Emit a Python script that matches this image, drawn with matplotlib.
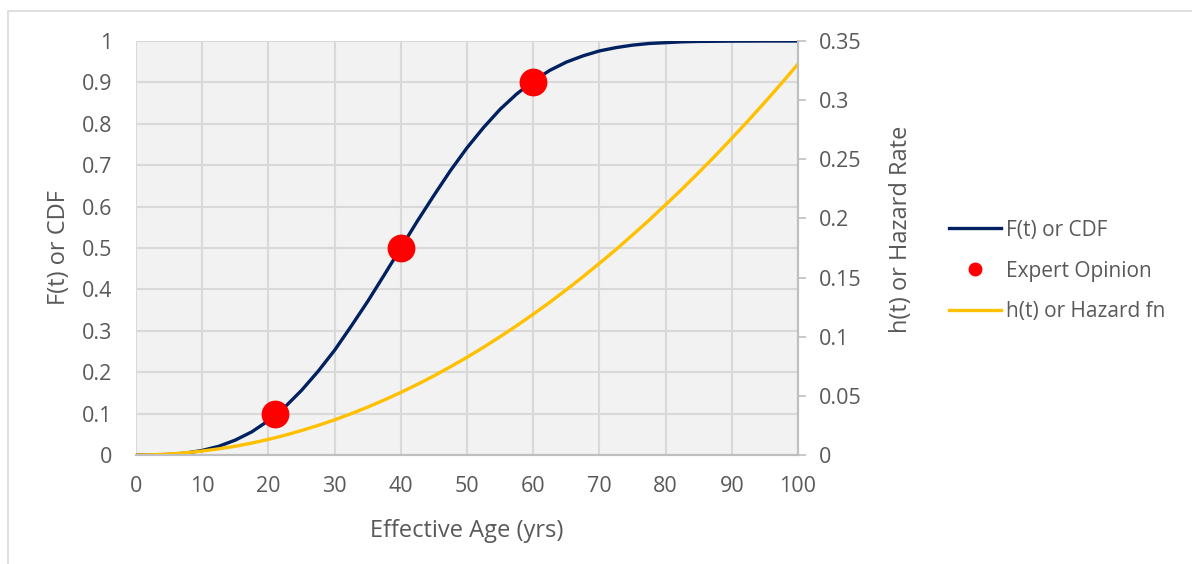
import matplotlib.pyplot as plt
from matplotlib.patches import Rectangle
from matplotlib.ticker import FuncFormatter, MultipleLocator

plt.rcParams["font.family"] = ["Open Sans", "DejaVu Sans"]

# effective age (years) and the two fitted curves
age = [0, 2.5, 5, 7.5, 10, 12.5, 15, 17.5, 20, 22.5, 25, 27.5, 30, 32.5, 35, 37.5,
       40, 42.5, 45, 47.5, 50, 52.5, 55, 57.5, 60, 62.5, 65, 67.5, 70, 72.5,
       75, 77.5, 80, 82.5, 85, 87.5, 90, 92.5, 95, 97.5, 100]
cdf = [0.0, 0.0002, 0.0014, 0.0046, 0.011, 0.021, 0.036, 0.056, 0.083, 0.116,
       0.156, 0.202, 0.253, 0.311, 0.371, 0.435, 0.500, 0.565, 0.627, 0.687,
       0.742, 0.791, 0.835, 0.872, 0.903, 0.929, 0.949, 0.964, 0.976, 0.984,
       0.990, 0.994, 0.996, 0.998, 0.999, 0.9993, 0.9997, 0.9998, 1.0, 1.0, 1.0]
hazard = [0.0, 0.0002, 0.0008, 0.0019, 0.0033, 0.0052, 0.0074, 0.0101, 0.0132, 0.0167,
          0.0207, 0.0250, 0.0297, 0.0349, 0.0405, 0.0465, 0.0529, 0.0597, 0.0669,
          0.0746, 0.0826, 0.0911, 0.1000, 0.1093, 0.1190, 0.1291, 0.1397, 0.1506,
          0.1620, 0.1737, 0.1860, 0.1985, 0.2116, 0.2249, 0.2388, 0.2530, 0.2677,
          0.2828, 0.2983, 0.3142, 0.3305]

# expert opinion points
expert_age = [21, 40, 60]
expert_cdf = [0.1, 0.5, 0.9]

navy = "#002060"
gold = "#FFC000"
text_c = "#595959"
grid_c = "#D9D9D9"
spine_c = "#BFBFBF"

fig = plt.figure(figsize=(11.92, 5.64), dpi=100)
fig.patches.append(Rectangle((8 / 1192, -0.1), 1.2, 1.1 - 11 / 564,
                             transform=fig.transFigure, fill=False,
                             edgecolor="#D9D9D9", linewidth=1.2))

ax = fig.add_axes([136 / 1192, 1 - 455 / 564, (798 - 136) / 1192, (455 - 41) / 564])
ax.set_facecolor("#F2F2F2")
ax2 = ax.twinx()

l1, = ax.plot(age, cdf, color=navy, linewidth=2.4, label="F(t) or CDF", zorder=3)
pts, = ax.plot(expert_age, expert_cdf, "o", color="#FF0000", markersize=19,
               label="Expert Opinion", zorder=4)
l2, = ax2.plot(age, hazard, color=gold, linewidth=2.4, label="h(t) or Hazard fn")

ax.set_xlim(0, 100)
ax.set_ylim(0, 1)
ax2.set_ylim(0, 0.35)
ax.xaxis.set_major_locator(MultipleLocator(10))
ax.yaxis.set_major_locator(MultipleLocator(0.1))
ax2.yaxis.set_major_locator(MultipleLocator(0.05))

fmt = FuncFormatter(lambda v, p: f"{round(v, 2):g}")
ax.yaxis.set_major_formatter(fmt)
ax2.yaxis.set_major_formatter(fmt)

ax.grid(True, color=grid_c, linewidth=1.5)
ax.set_axisbelow(True)

for a in (ax, ax2):
    for side in ("left", "top"):
        a.spines[side].set_visible(False)
    a.spines["bottom"].set_color(spine_c)
    a.spines["bottom"].set_linewidth(1.5)
    a.spines["right"].set_color(spine_c)
    a.spines["right"].set_linewidth(1.5)

tick_fs = 15.5
title_fs = 17

ax.tick_params(axis="both", length=0, labelsize=tick_fs, colors=text_c)
ax.tick_params(axis="y", pad=17)
ax.tick_params(axis="x", pad=15)
ax2.tick_params(axis="y", length=6, width=1.2, color=spine_c, labelsize=tick_fs,
                labelcolor=text_c, pad=9)

ax.set_xlabel("Effective Age (yrs)", fontsize=title_fs, color=text_c)
ax.set_ylabel("F(t) or CDF", fontsize=title_fs, color=text_c)
ax2.set_ylabel("h(t) or Hazard Rate", fontsize=title_fs, color=text_c)
ax.xaxis.set_label_coords(0.5, -0.155)
ax.yaxis.set_label_coords(-0.098, 0.5)
ax2.yaxis.set_label_coords(1.138, 0.545)

leg_handles = [l1, plt.Line2D([], [], marker="o", linestyle="none", color="#FF0000",
                              markersize=9), l2]
fig.legend(leg_handles, ["F(t) or CDF", "Expert Opinion", "h(t) or Hazard fn"],
           loc="center left", bbox_to_anchor=(930 / 1192, 1 - 271 / 564),
           frameon=False, fontsize=15, labelcolor=text_c, handlelength=2.5,
           handletextpad=0.25, labelspacing=0.95)

fig.savefig("out.png", dpi=100)
